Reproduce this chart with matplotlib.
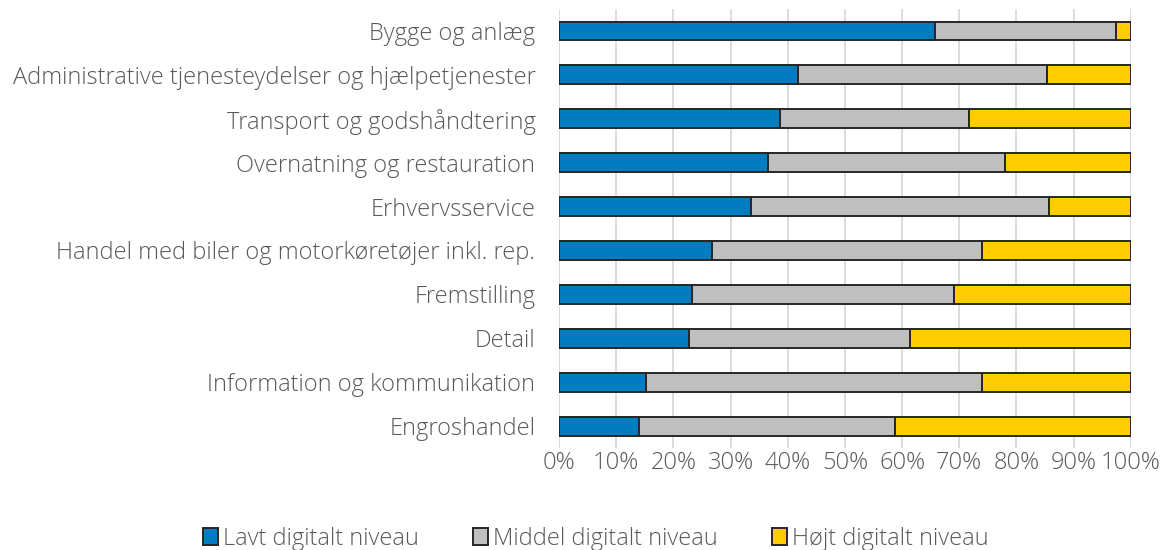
import numpy as np
import matplotlib.pyplot as plt
from matplotlib.ticker import PercentFormatter

plt.rcParams['font.family'] = ['Open Sans', 'DejaVu Sans']
plt.rcParams['font.weight'] = 'light'

# kategorier, oppefra og ned
categories = [
    "Bygge og anlæg",
    "Administrative tjenesteydelser og hjælpetjenester",
    "Transport og godshåndtering",
    "Overnatning og restauration",
    "Erhvervsservice",
    "Handel med biler og motorkøretøjer inkl. rep.",
    "Fremstilling",
    "Detail",
    "Information og kommunikation",
    "Engroshandel",
]
lavt = [65.8, 41.8, 38.7, 36.6, 33.5, 26.8, 23.3, 22.8, 15.2, 13.9]
middel = [31.6, 43.5, 33.0, 41.4, 52.2, 47.2, 45.7, 38.5, 58.8, 44.9]
hoejt = [100 - a - b for a, b in zip(lavt, middel)]

series = ["Lavt digitalt niveau", "Middel digitalt niveau", "Højt digitalt niveau"]
colors = ["#007CC2", "#BFBFBF", "#FFCC00"]
txt = "#595959"

fig = plt.figure(figsize=(11.61, 5.5), dpi=100)
ax = fig.add_axes([0.4815, 0.185, 0.4925, 0.799])

y = np.arange(len(categories))
left = np.zeros(len(categories))
for vals, name, c in zip([lavt, middel, hoejt], series, colors):
    ax.barh(y, vals, left=left, height=0.42, color=c, edgecolor="#262626",
            linewidth=1.4, label=name, zorder=3)
    left += np.array(vals)

ax.set_ylim(len(categories) - 0.5, -0.5)
ax.set_xlim(0, 100)
ax.set_xticks(np.arange(0, 101, 10))
ax.xaxis.set_major_formatter(PercentFormatter(decimals=0))
ax.set_yticks(y)
ax.set_yticklabels(categories)
ax.tick_params(axis="both", length=0, labelsize=17, colors=txt)
ax.tick_params(axis="y", pad=17)
ax.tick_params(axis="x", pad=2)
ax.grid(axis="x", color="#D9D9D9", linewidth=1.3, zorder=0)
for s in ax.spines.values():
    s.set_visible(False)

fig.legend(loc="lower center", bbox_to_anchor=(0.513, -0.04), ncol=3,
           frameon=False, fontsize=17, labelcolor=txt, handlelength=0.65,
           handleheight=0.75, handletextpad=0.2, columnspacing=2.3)

fig.savefig("out.png", dpi=100)
